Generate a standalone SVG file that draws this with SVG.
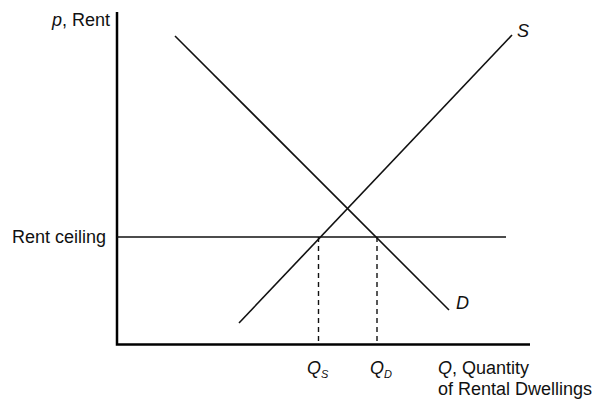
<svg xmlns="http://www.w3.org/2000/svg" width="592" height="401" viewBox="0 0 592 401">
<style>
text{font-family:"Liberation Sans",Arial,sans-serif;font-size:18px;fill:#111}
.it{font-style:italic}
.sub{font-size:11px;font-style:italic}
.ax{stroke:#000;stroke-width:2.5;fill:none}
.ln{stroke:#111;stroke-width:1.6;fill:none}
.dash{stroke:#111;stroke-width:1.4;stroke-dasharray:5,4;fill:none}
</style>
<rect width="592" height="401" fill="#fff"/>
<g id="axes">
<polyline class="ax" points="117,12 117,344.5 530,344.5"/>
<text x="52" y="26"><tspan class="it">p</tspan>, Rent</text>
<text x="438" y="374"><tspan class="it">Q</tspan>, Quantity</text>
<text x="438" y="395">of Rental Dwellings</text>
</g>
<g id="connectors">
<line id="supply" class="ln" x1="239" y1="323" x2="512" y2="35"/>
<line id="demand" class="ln" x1="175" y1="36" x2="449" y2="310"/>
<line id="ceiling" class="ln" x1="117" y1="237" x2="506" y2="237"/>
<line class="dash" x1="318.5" y1="237" x2="318.5" y2="344"/>
<line class="dash" x1="377" y1="237" x2="377" y2="344"/>
</g>
<g id="labels">
<text class="it" x="517" y="37">S</text>
<text class="it" x="456" y="309">D</text>
<text x="12" y="243">Rent ceiling</text>
<text x="307" y="374"><tspan class="it">Q</tspan><tspan class="sub" dy="4">S</tspan></text>
<text x="370" y="374"><tspan class="it">Q</tspan><tspan class="sub" dy="4">D</tspan></text>
</g>
</svg>
